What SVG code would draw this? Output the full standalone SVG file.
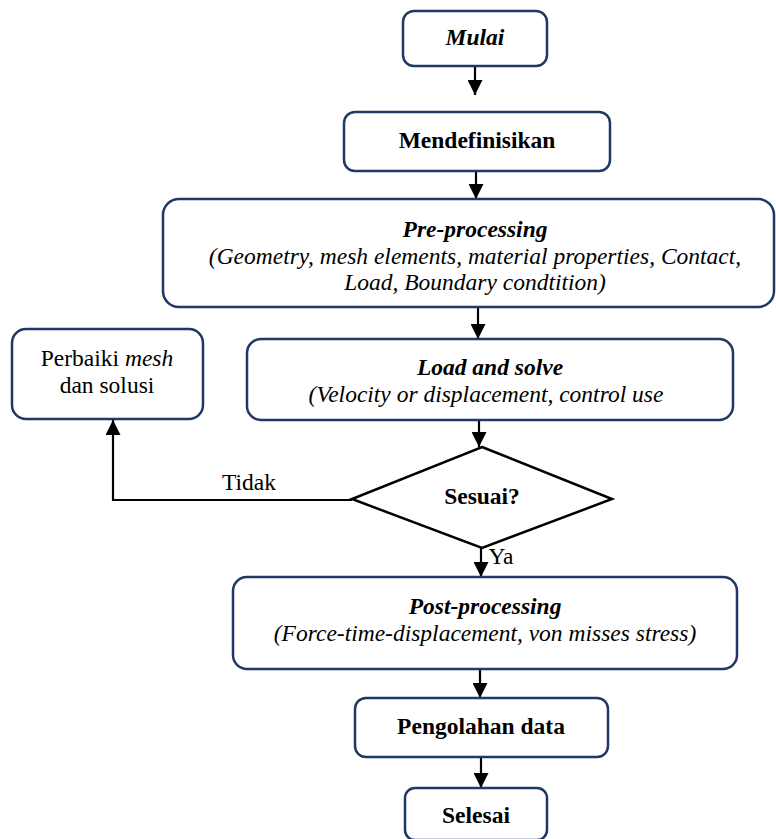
<svg xmlns="http://www.w3.org/2000/svg" width="776" height="839" viewBox="0 0 776 839">
<defs>
<style>
.box{fill:#fff;stroke:#1f3864;stroke-width:2.5}
.dia{fill:#fff;stroke:#000;stroke-width:2.5}
text{font-family:'Liberation Serif','DejaVu Serif',serif;font-size:23.5px;fill:#000;text-anchor:middle}
.b{font-weight:bold}
.i{font-style:italic}
.ln{fill:none;stroke:#000;stroke-width:2.2}
</style>
<marker id="a" viewBox="0 0 10 10" refX="10" refY="5" markerWidth="15" markerHeight="15" markerUnits="userSpaceOnUse" orient="auto">
<path d="M0,0 L10,5 L0,10 z" fill="#000"/>
</marker>
</defs>
<rect width="776" height="839" fill="#fff"/>

<g id="connectors">
<line class="ln" x1="475" y1="66" x2="475" y2="95" marker-end="url(#a)"/>
<line class="ln" x1="476" y1="171" x2="476" y2="199" marker-end="url(#a)"/>
<line class="ln" x1="478" y1="308" x2="478" y2="339" marker-end="url(#a)"/>
<line class="ln" x1="479" y1="420" x2="479" y2="447" marker-end="url(#a)"/>
<polyline class="ln" points="352,500 113,500 113,420" marker-end="url(#a)"/>
<line class="ln" x1="481" y1="548" x2="481" y2="577" marker-end="url(#a)"/>
<line class="ln" x1="480" y1="669" x2="480" y2="698" marker-end="url(#a)"/>
<line class="ln" x1="481" y1="757" x2="481" y2="788" marker-end="url(#a)"/>
<text x="249" y="490">Tidak</text>
<text x="501" y="564">Ya</text>
</g>

<g id="mulai">
<rect class="box" x="403" y="11" width="144" height="55" rx="11"/>
<text class="b i" x="475" y="45">Mulai</text>
</g>

<g id="mendefinisikan">
<rect class="box" x="344" y="112" width="266" height="59" rx="11"/>
<text class="b" x="477" y="148">Mendefinisikan</text>
</g>

<g id="preprocessing">
<rect class="box" x="163" y="199" width="611" height="108" rx="16"/>
<text class="b i" x="475" y="237">Pre-processing</text>
<text class="i" x="475" y="264">(Geometry, mesh elements, material properties, Contact,</text>
<text class="i" x="475" y="290">Load, Boundary condtition)</text>
</g>

<g id="loadsolve">
<rect class="box" x="247" y="339" width="486" height="81" rx="14"/>
<text class="b i" x="490" y="375">Load and solve</text>
<text class="i" x="486" y="402">(Velocity or displacement, control use</text>
</g>

<g id="perbaiki">
<rect class="box" x="12" y="329" width="191" height="90" rx="14"/>
<text x="107" y="366">Perbaiki <tspan class="i">mesh</tspan></text>
<text x="107" y="393">dan solusi</text>
</g>

<g id="sesuai">
<polygon class="dia" points="482,447 612,499 482,548 352,499"/>
<text class="b" x="482" y="504">Sesuai?</text>
</g>

<g id="postprocessing">
<rect class="box" x="233" y="577" width="504" height="92" rx="14"/>
<text class="b i" x="485" y="614">Post-processing</text>
<text class="i" x="485" y="641">(Force-time-displacement, von misses stress)</text>
</g>

<g id="pengolahan">
<rect class="box" x="355" y="698" width="253" height="59" rx="11"/>
<text class="b" x="481" y="734">Pengolahan data</text>
</g>

<g id="selesai">
<rect class="box" x="405" y="788" width="142" height="52" rx="10"/>
<text class="b" x="476" y="823">Selesai</text>
</g>
</svg>
